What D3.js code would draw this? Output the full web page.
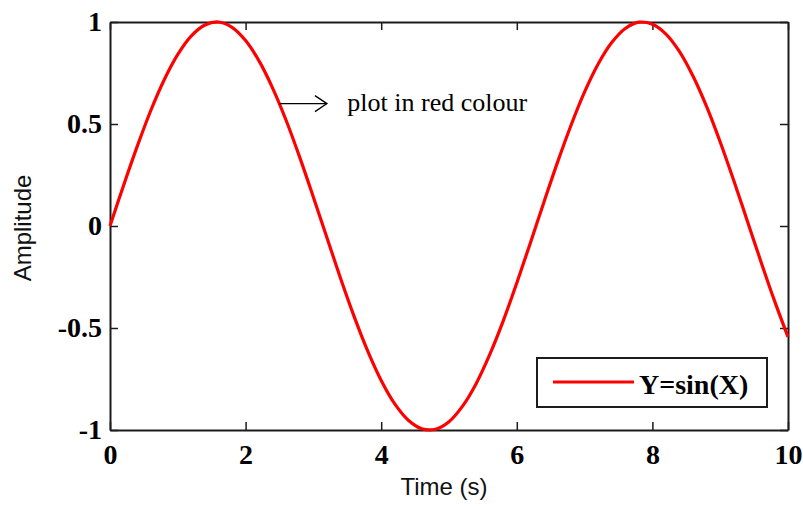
<!DOCTYPE html>
<html>
<head>
<meta charset="utf-8">
<script src="https://cdn.jsdelivr.net/npm/d3@7"></script>
<style>
  html, body { margin: 0; padding: 0; background: #fff; }
  svg { display: block; }
</style>
</head>
<body>
<svg id="chart" width="803" height="506"></svg>
<script>
// Sampled signal: time (s) and amplitude
const timeValues = [
  0, 0.2, 0.4, 0.6, 0.8, 1.0, 1.2, 1.4, 1.6, 1.8,
  2.0, 2.2, 2.4, 2.6, 2.8, 3.0, 3.2, 3.4, 3.6, 3.8,
  4.0, 4.2, 4.4, 4.6, 4.8, 5.0, 5.2, 5.4, 5.6, 5.8,
  6.0, 6.2, 6.4, 6.6, 6.8, 7.0, 7.2, 7.4, 7.6, 7.8,
  8.0, 8.2, 8.4, 8.6, 8.8, 9.0, 9.2, 9.4, 9.6, 9.8, 10.0
];
const amplitudeValues = [
  0.000, 0.199, 0.389, 0.565, 0.717, 0.841, 0.932, 0.985, 1.000, 0.974,
  0.909, 0.808, 0.675, 0.516, 0.335, 0.141, -0.058, -0.256, -0.443, -0.612,
  -0.757, -0.872, -0.952, -0.994, -0.996, -0.959, -0.883, -0.773, -0.631, -0.465,
  -0.279, -0.083, 0.117, 0.312, 0.494, 0.657, 0.794, 0.899, 0.968, 0.999,
  0.989, 0.941, 0.855, 0.734, 0.585, 0.412, 0.223, 0.025, -0.174, -0.366, -0.544
];

const xTicks = [0, 2, 4, 6, 8, 10];
const yTicks = [-1, -0.5, 0, 0.5, 1];
const yTickLabels = ["-1", "-0.5", "0", "0.5", "1"];

const seriesName = "Y=sin(X)";
const xLabel = "Time (s)";
const yLabel = "Amplitude";
const noteText = "plot in red colour";
// arrow from the curve towards the note, in data units
const noteArrow = { x0: 2.5, x1: 3.2, y: 0.6, textX: 3.5 };

const svg = d3.select("#chart");
const plot = { left: 110, right: 788, top: 22, bottom: 430 };

const x = d3.scaleLinear().domain([0, 10]).range([plot.left, plot.right]);
const y = d3.scaleLinear().domain([-1, 1]).range([plot.bottom, plot.top]);

const axisColor = "#1c1c1c";
const tickFont = "'Liberation Serif', 'Times New Roman', serif";
const labelFont = "'Liberation Sans', Arial, sans-serif";
const tickLen = 8;

// axes: bottom and left carry labels, top and right mirror the ticks
const xAxisBottom = d3.axisBottom(x).tickValues(xTicks).tickSizeInner(-tickLen).tickSizeOuter(0).tickPadding(tickLen + 6).tickFormat(d3.format("d"));
const xAxisTop = d3.axisTop(x).tickValues(xTicks).tickSizeInner(-tickLen).tickSizeOuter(0).tickFormat("");
const yAxisLeft = d3.axisLeft(y).tickValues(yTicks).tickSizeInner(-tickLen).tickSizeOuter(0).tickPadding(8)
  .tickFormat((d, i) => yTickLabels[i]);
const yAxisRight = d3.axisRight(y).tickValues(yTicks).tickSizeInner(-tickLen).tickSizeOuter(0).tickFormat("");

function styleAxis(g) {
  g.select(".domain").attr("stroke", axisColor).attr("stroke-width", 2);
  g.selectAll(".tick line").attr("stroke", axisColor).attr("stroke-width", 1.5);
  g.selectAll(".tick text")
    .attr("fill", "#000")
    .style("font-family", tickFont)
    .style("font-weight", "bold")
    .style("font-size", "28px");
}

svg.append("g").attr("transform", `translate(0,${plot.bottom})`).call(xAxisBottom).call(styleAxis);
svg.append("g").attr("transform", `translate(0,${plot.top})`).call(xAxisTop).call(styleAxis);
svg.append("g").attr("transform", `translate(${plot.left},0)`).call(yAxisLeft).call(styleAxis);
svg.append("g").attr("transform", `translate(${plot.right},0)`).call(yAxisRight).call(styleAxis);

// axis titles
svg.append("text")
  .attr("x", 444).attr("y", 495)
  .attr("text-anchor", "middle")
  .style("font-family", labelFont).style("font-size", "24px")
  .attr("fill", "#111")
  .text(xLabel);

svg.append("text")
  .attr("transform", `translate(31,${(plot.top + plot.bottom) / 2 + 2}) rotate(-90)`)
  .attr("text-anchor", "middle")
  .style("font-family", labelFont).style("font-size", "24px")
  .attr("fill", "#111")
  .text(yLabel);

// the signal
const points = timeValues.map((t, i) => [t, amplitudeValues[i]]);
const line = d3.line()
  .x(d => x(d[0]))
  .y(d => y(d[1]))
  .curve(d3.curveCatmullRom);

svg.append("path")
  .datum(points)
  .attr("fill", "none")
  .attr("stroke", "#ff0000")
  .attr("stroke-width", 3.2)
  .attr("stroke-linejoin", "round")
  .attr("d", line);

// note with arrow
const ay = y(noteArrow.y);
const ax0 = x(noteArrow.x0), ax1 = x(noteArrow.x1);
svg.append("line")
  .attr("x1", ax0).attr("y1", ay).attr("x2", ax1).attr("y2", ay)
  .attr("stroke", "#000").attr("stroke-width", 1.3);
svg.append("path")
  .attr("d", `M${ax1 - 12},${ay - 8} L${ax1},${ay} L${ax1 - 12},${ay + 8}`)
  .attr("fill", "none").attr("stroke", "#000").attr("stroke-width", 1.3);
svg.append("text")
  .attr("x", x(noteArrow.textX)).attr("y", ay + 7)
  .style("font-family", tickFont).style("font-size", "26px")
  .attr("fill", "#000")
  .text(noteText);

// legend
const legend = svg.append("g").attr("transform", "translate(537,358)");
legend.append("rect")
  .attr("width", 230).attr("height", 49)
  .attr("fill", "#fff").attr("stroke", axisColor).attr("stroke-width", 2);
legend.append("line")
  .attr("x1", 16).attr("x2", 97).attr("y1", 24).attr("y2", 24)
  .attr("stroke", "#ff0000").attr("stroke-width", 3.2);
legend.append("text")
  .attr("x", 102).attr("y", 36)
  .style("font-family", tickFont).style("font-weight", "bold").style("font-size", "28px")
  .attr("fill", "#000")
  .text(seriesName);
</script>
</body>
</html>
